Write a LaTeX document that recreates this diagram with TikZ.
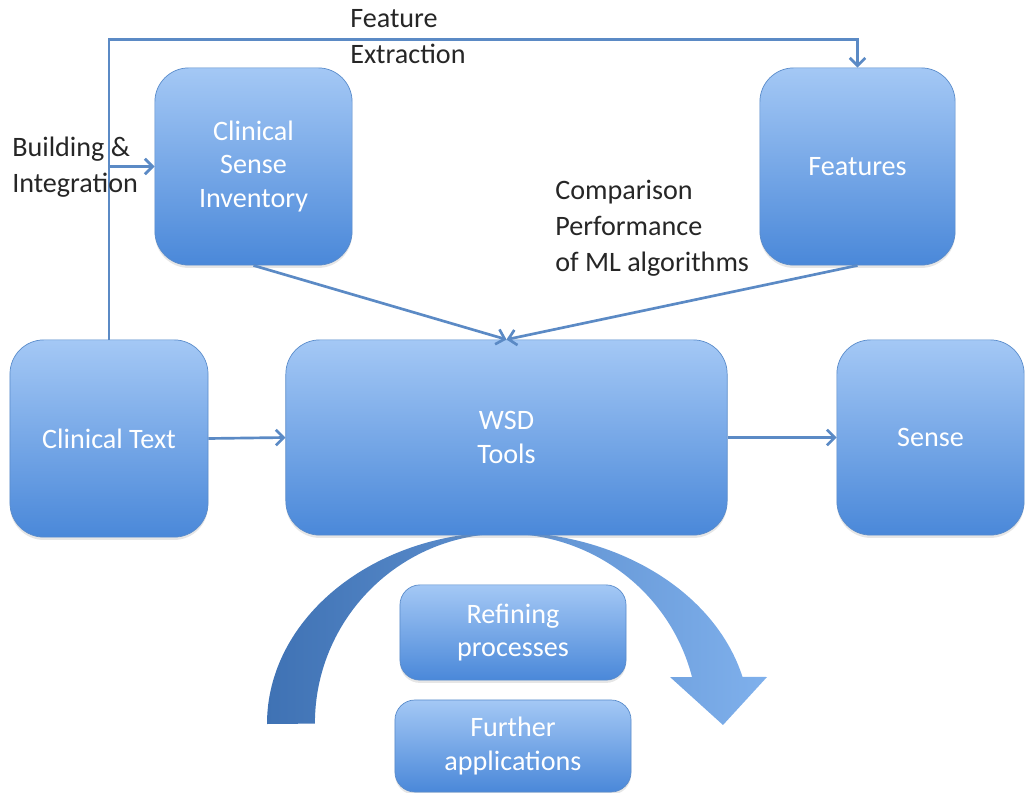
\documentclass[tikz,border=0pt]{standalone}
\usepackage{fontspec}
\setmainfont{Carlito}
\usetikzlibrary{arrows.meta,shadows}

\definecolor{boxtop}{HTML}{A4C8F5}
\definecolor{boxbot}{HTML}{4A88D9}
\definecolor{boxline}{HTML}{5A8CCB}
\definecolor{linkcol}{HTML}{5B8AC5}
\definecolor{arcdark}{HTML}{3F72B4}
\definecolor{arclight}{HTML}{7FB0EC}

\tikzset{
  blob/.style={rounded corners=0.85cm, draw=boxline, line width=0.5pt,
    top color=boxtop, bottom color=boxbot, text=white, align=center,
    inner sep=0pt, font=\fontsize{20}{24}\selectfont,
    drop shadow={opacity=0.2, shadow xshift=0pt, shadow yshift=-2pt}},
  smallblob/.style={blob, rounded corners=0.5cm},
  link/.style={draw=linkcol, line width=1.9pt, ->},
  tag/.style={anchor=north west, inner sep=0pt, align=left, text=black!85,
    font=\fontsize{20}{25.5}\selectfont}
}

\begin{document}
\begin{tikzpicture}[x=0.025cm, y=0.025cm, >={Straight Barb[length=5.5pt,width=11pt]}]
\useasboundingbox (0,0) rectangle (1026,792);

% curved arrow under the tools box
\shade[left color=arcdark, right color=arclight]
  (267,68) arc[start angle=180, end angle=90, x radius=238, y radius=192]
  arc[start angle=90, end angle=14.2, x radius=245, y radius=192]
  -- (767,115) -- (723,67) -- (670,115) -- (692,115)
  arc[start angle=14.2, end angle=90, x radius=193, y radius=190]
  arc[start angle=90, end angle=180, x radius=190, y radius=190]
  -- cycle;

\node[blob, minimum width=4.93cm, minimum height=4.93cm] (inv) at (253.5,625.5) {Clinical\\Sense\\Inventory};
\node[blob, minimum width=4.88cm, minimum height=4.93cm] (feat) at (857.5,625.5) {Features};
\node[blob, minimum width=4.95cm, minimum height=4.93cm] (text) at (109,353.5) {Clinical Text};
\node[blob, minimum width=11.03cm, minimum height=4.88cm] (wsd) at (506.5,354.5) {WSD\\Tools};
\node[blob, minimum width=4.68cm, minimum height=4.88cm] (sense) at (930.5,354.5) {Sense};
\node[smallblob, minimum width=5.65cm, minimum height=2.38cm] (ref) at (513,159.5) {Refining\\processes};
\node[smallblob, minimum width=5.9cm, minimum height=2.3cm] (fur) at (513,46) {Further\\applications};

\draw[link] (text.north) -- ++(0,300) -| (feat.north);
\coordinate (bi) at (text.north |- inv.west);
\draw[link] (bi) -- (inv.west);
\draw[link] (inv.south) -- (wsd.north);
\draw[link] (feat.south) -- (wsd.north);
\draw[link] (text.east) -- (wsd.west);
\draw[link] (wsd.east) -- (sense.west);

\node[tag] (fe) at (350,783) {Feature\\Extraction};
\node[tag] (bu) at (12,655) {Building \&\\Integration};
\node[tag] (cp) at (555,612) {Comparison\\Performance\\of ML algorithms};

\end{tikzpicture}
\end{document}
